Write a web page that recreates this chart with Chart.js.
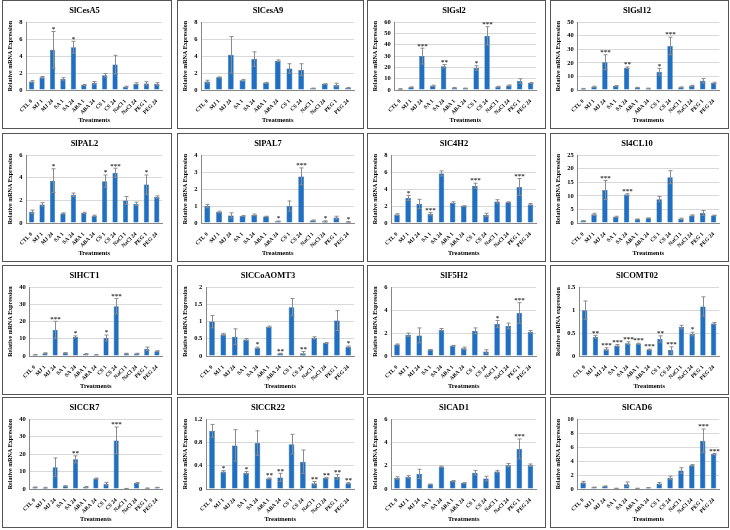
<!DOCTYPE html>
<html lang="en">
<head>
<meta charset="UTF-8">
<title>Sl gene expression panels</title>
<script src="https://cdn.jsdelivr.net/npm/chart.js"></script>
<style>
    body { margin: 0; background: #fff; width: 730px; height: 530px; position: relative; overflow: hidden; }
    .panel { position: absolute; box-sizing: border-box; border: 1.5px solid #555; background: #fff; }
    .panel canvas { display: block; }
</style>
</head>
<body>
<script>
// treatments on the x axis
const treatments = ['CTL 0', 'MJ 1', 'MJ 24', 'SA 1', 'SA 24', 'ABA 1', 'ABA 24', 'CS 1', 'CS 24', 'NaCl 1', 'NaCl 24', 'PEG 1', 'PEG 24'];

// gene names (panel titles)
const genes = ['SlCesA5', 'SlCesA9', 'SlGsl2', 'SlGsl12', 'SlPAL2', 'SlPAL7', 'SlC4H2', 'Sl4CL10',
               'SlHCT1', 'SlCCoAOMT3', 'SlF5H2', 'SlCOMT02', 'SlCCR7', 'SlCCR22', 'SlCAD1', 'SlCAD6'];

// y axis max and step for each panel
const yMax  = [8, 8, 60, 50, 6, 4, 8, 25, 40, 2, 6, 1.5, 40, 1.2, 6, 10];
const yStep = [1, 2, 10, 10, 2, 1, 2, 5, 10, 0.5, 2, 0.5, 10, 0.4, 2, 2];

// relative expression means
const cesA5  = [1.0, 1.5, 4.75, 1.3, 5.05, 0.6, 0.85, 1.75, 3.0, 0.4, 0.75, 0.78, 0.72];
const cesA9  = [1.0, 1.5, 4.15, 1.15, 3.65, 0.85, 3.45, 2.55, 2.4, 0.2, 0.7, 0.6, 0.25];
const gsl2   = [1.0, 2.5, 30, 3.8, 21, 2.0, 1.5, 19.5, 48, 3.0, 4.0, 8.0, 6.2];
const gsl12  = [1.0, 2.5, 20.5, 3.0, 16.5, 1.8, 1.2, 13.5, 32.5, 2.0, 3.2, 6.8, 5.2];
const pal2   = [1.0, 1.65, 3.75, 0.85, 2.5, 0.9, 0.65, 3.7, 4.45, 2.0, 1.7, 3.4, 2.3];
const pal7   = [1.0, 0.65, 0.45, 0.42, 0.48, 0.38, 0.1, 1.0, 2.75, 0.15, 0.1, 0.32, 0.07];
const c4h2   = [1.0, 2.95, 2.25, 1.1, 5.85, 2.4, 2.0, 4.4, 0.95, 2.55, 2.45, 4.25, 2.2];
const cl10   = [0.8, 3.2, 12.2, 2.3, 10.5, 1.4, 1.8, 8.8, 16.9, 1.6, 2.8, 3.7, 2.8];
const hct1   = [0.8, 1.6, 15.2, 1.8, 11.2, 1.2, 0.8, 10.5, 29, 1.4, 1.4, 4.2, 2.8];
const ccoa3  = [1.0, 0.63, 0.56, 0.48, 0.24, 0.85, 0.07, 1.42, 0.08, 0.53, 0.38, 1.03, 0.27];
const f5h2   = [1.0, 1.85, 1.8, 0.55, 2.3, 0.9, 0.68, 2.2, 0.4, 2.8, 2.62, 3.75, 2.12];
const comt02 = [1.0, 0.42, 0.15, 0.23, 0.28, 0.27, 0.14, 0.37, 0.13, 0.63, 0.48, 1.08, 0.71];
const ccr7   = [1.0, 0.8, 12.5, 1.7, 17, 1.2, 6.0, 3.0, 27.8, 0.3, 3.5, 0.5, 0.9];
const ccr22  = [1.0, 0.3, 0.75, 0.28, 0.79, 0.18, 0.2, 0.77, 0.47, 0.1, 0.19, 0.21, 0.1];
const cad1   = [0.95, 1.05, 1.3, 0.4, 1.92, 0.68, 0.52, 1.4, 0.9, 1.5, 2.05, 3.45, 2.05];
const cad6   = [0.95, 0.25, 0.4, 0.1, 0.7, 0.1, 0.2, 0.8, 1.6, 2.65, 3.4, 6.9, 5.0];

// standard errors
const cesA5Err  = [0.1, 0.1, 2.15, 0.15, 0.7, 0.05, 0.15, 0.2, 1.1, 0.05, 0.1, 0.2, 0.15];
const cesA9Err  = [0.15, 0.05, 2.15, 0.1, 0.85, 0.05, 0.1, 0.55, 0.7, 0.03, 0.05, 0.2, 0.05];
const gsl2Err   = [0.2, 0.3, 7, 0.5, 1.5, 0.3, 0.2, 2, 8, 0.3, 0.5, 2, 0.4];
const gsl12Err  = [0.2, 0.3, 5.5, 0.3, 0.5, 0.2, 0.2, 2.5, 6.5, 0.3, 0.3, 1.7, 0.5];
const pal2Err   = [0.15, 0.15, 1.05, 0.05, 0.15, 0.05, 0.05, 0.55, 0.4, 0.35, 0.15, 0.85, 0.1];
const pal7Err   = [0.1, 0.05, 0.15, 0.02, 0.05, 0.02, 0.02, 0.3, 0.5, 0.03, 0.03, 0.08, 0.02];
const c4h2Err   = [0.1, 0.3, 0.55, 0.15, 0.3, 0.1, 0.05, 0.3, 0.2, 0.2, 0.05, 1.0, 0.1];
const cl10Err   = [0.1, 0.4, 3.5, 0.2, 0.3, 0.1, 0.1, 1.0, 2.4, 0.2, 0.2, 0.9, 0.1];
const hct1Err   = [0.1, 0.3, 5, 0.2, 0.5, 0.2, 0.1, 1.7, 4.5, 0.2, 0.2, 1.0, 0.3];
const ccoa3Err  = [0.18, 0.03, 0.23, 0.03, 0.02, 0.02, 0.01, 0.25, 0.05, 0.03, 0.01, 0.29, 0.02];
const f5h2Err   = [0.05, 0.15, 0.65, 0.02, 0.1, 0.03, 0.1, 0.25, 0.15, 0.3, 0.25, 0.9, 0.1];
const comt02Err = [0.2, 0.03, 0.03, 0.02, 0.03, 0.01, 0.01, 0.07, 0.07, 0.04, 0.04, 0.21, 0.02];
const ccr7Err   = [0.2, 0.2, 5.3, 0.2, 2, 0.3, 0.3, 0.8, 7.7, 0.05, 0.3, 0.05, 0.1];
const ccr22Err  = [0.11, 0.02, 0.27, 0.02, 0.21, 0.01, 0.07, 0.17, 0.2, 0.03, 0.01, 0.04, 0.01];
const cad1Err   = [0.1, 0.1, 0.4, 0.03, 0.05, 0.05, 0.03, 0.2, 0.2, 0.1, 0.15, 0.85, 0.1];
const cad6Err   = [0.15, 0.03, 0.05, 0.02, 0.3, 0.01, 0.02, 0.15, 0.25, 0.4, 0.1, 1.7, 0.1];

// significance marks
const cesA5Sig  = ['', '', '*', '', '*', '', '', '', '', '', '', '', ''];
const cesA9Sig  = ['', '', '', '', '', '', '', '', '', '', '', '', ''];
const gsl2Sig   = ['', '', '***', '', '**', '', '', '*', '***', '', '', '', ''];
const gsl12Sig  = ['', '', '***', '', '**', '', '', '*', '***', '', '', '', ''];
const pal2Sig   = ['', '', '*', '', '', '', '', '*', '***', '', '', '*', ''];
const pal7Sig   = ['', '', '', '', '', '', '*', '', '***', '', '*', '', '*'];
const c4h2Sig   = ['', '*', '', '***', '', '', '', '***', '', '', '', '***', ''];
const cl10Sig   = ['', '', '***', '', '***', '', '', '', '', '', '', '', ''];
const hct1Sig   = ['', '', '***', '', '*', '', '', '*', '***', '', '', '', ''];
const ccoa3Sig  = ['', '', '', '', '*', '', '**', '', '**', '', '', '', '*'];
const f5h2Sig   = ['', '', '', '', '', '', '', '', '', '*', '', '***', ''];
const comt02Sig = ['', '**', '***', '***', '***', '***', '***', '**', '***', '', '*', '', ''];
const ccr7Sig   = ['', '', '', '', '**', '', '', '', '***', '', '', '', ''];
const ccr22Sig  = ['', '*', '', '*', '', '**', '**', '', '', '**', '**', '**', '**'];
const cad1Sig   = ['', '', '', '', '', '', '', '', '', '', '', '***', ''];
const cad6Sig   = ['', '', '', '', '', '', '', '', '', '', '', '***', '***'];

const values = [cesA5, cesA9, gsl2, gsl12, pal2, pal7, c4h2, cl10, hct1, ccoa3, f5h2, comt02, ccr7, ccr22, cad1, cad6];
const errors = [cesA5Err, cesA9Err, gsl2Err, gsl12Err, pal2Err, pal7Err, c4h2Err, cl10Err, hct1Err, ccoa3Err, f5h2Err, comt02Err, ccr7Err, ccr22Err, cad1Err, cad6Err];
const marks  = [cesA5Sig, cesA9Sig, gsl2Sig, gsl12Sig, pal2Sig, pal7Sig, c4h2Sig, cl10Sig, hct1Sig, ccoa3Sig, f5h2Sig, comt02Sig, ccr7Sig, ccr22Sig, cad1Sig, cad6Sig];

// panel frame positions in the figure
const colEdges = [[2, 172], [177, 364], [367, 546], [550, 729]];
const rowEdges = [[0, 129], [133, 262], [265, 395], [397, 528]];

const serif = "'Liberation Serif', 'Times New Roman', serif";

// error bars + stars drawn on top of the bars
const errorBarPlugin = {
    id: 'errorBars',
    afterDatasetsDraw(chart, args, opts) {
        const ctx = chart.ctx;
        const x = chart.scales.x, y = chart.scales.y;
        const vals = chart.data.datasets[0].data;
        ctx.save();
        ctx.strokeStyle = '#8c8c8c';
        ctx.lineWidth = 1;
        vals.forEach((v, i) => {
            const e = opts.err[i];
            const px = Math.round(x.getPixelForValue(i)) + 0.5;
            const top = y.getPixelForValue(v + e);
            const bot = y.getPixelForValue(Math.max(v - e, 0));
            ctx.beginPath();
            ctx.moveTo(px, top); ctx.lineTo(px, bot);
            ctx.moveTo(px - 2, top); ctx.lineTo(px + 2, top);
            ctx.moveTo(px - 2, bot); ctx.lineTo(px + 2, bot);
            ctx.stroke();
            if (opts.sig[i]) {
                ctx.fillStyle = '#333';
                ctx.font = 'bold 7px ' + serif;
                ctx.textAlign = 'center';
                ctx.textBaseline = 'bottom';
                ctx.fillText(opts.sig[i], px, top + 1);
            }
        });
        ctx.restore();
    }
};

genes.forEach((gene, k) => {
    const [x1, x2] = colEdges[k % 4];
    const [y1, y2] = rowEdges[Math.floor(k / 4)];
    const div = document.createElement('div');
    div.className = 'panel';
    div.style.left = x1 + 'px';
    div.style.top = y1 + 'px';
    div.style.width = (x2 - x1) + 'px';
    div.style.height = (y2 - y1) + 'px';
    const cv = document.createElement('canvas');
    cv.width = x2 - x1 - 3;
    cv.height = y2 - y1 - 3;
    div.appendChild(cv);
    document.body.appendChild(div);

    new Chart(cv, {
        type: 'bar',
        data: {
            labels: treatments,
            datasets: [{
                data: values[k],
                backgroundColor: '#1f70c3',
                borderColor: '#185a9e',
                borderWidth: 0.5,
                barPercentage: 0.5,
                categoryPercentage: 1
            }]
        },
        options: {
            responsive: false,
            animation: false,
            devicePixelRatio: 1,
            layout: { padding: { left: 4, right: 8, top: 0, bottom: 3 } },
            plugins: {
                legend: { display: false },
                tooltip: { enabled: false },
                title: {
                    display: true,
                    text: gene,
                    color: '#000',
                    font: { family: serif, size: 8.5, weight: 'bold' },
                    padding: { top: 5, bottom: 6 }
                },
                errorBars: { err: errors[k], sig: marks[k] }
            },
            scales: {
                x: {
                    grid: { display: false },
                    border: { color: '#888' },
                    ticks: {
                        color: '#000',
                        font: { family: serif, size: 5.5, weight: 'bold' },
                        minRotation: 45, maxRotation: 45, autoSkip: false, padding: 0
                    },
                    title: {
                        display: true, text: 'Treatments', color: '#000',
                        font: { family: serif, size: 6.5, weight: 'bold' },
                        padding: { top: 0, bottom: 0 }
                    }
                },
                y: {
                    min: 0,
                    max: yMax[k],
                    grid: { color: '#d9d9d9', drawTicks: false },
                    border: { color: '#888' },
                    ticks: {
                        stepSize: yStep[k],
                        color: '#000',
                        padding: 4,
                        font: { family: serif, size: 6.5, weight: 'bold' },
                        callback: v => String(parseFloat(v.toFixed(2)))
                    },
                    title: {
                        display: true,
                        text: gene === 'SlCOMT02' ? 'Relative mRNA expression' : 'Relative mRNA Expression',
                        color: '#000',
                        font: { family: serif, size: 6, weight: 'bold' },
                        padding: { top: 0, bottom: 1 }
                    }
                }
            }
        },
        plugins: [errorBarPlugin]
    });
});
</script>
</body>
</html>
